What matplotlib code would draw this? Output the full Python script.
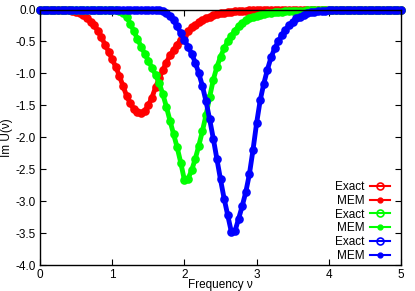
import matplotlib
matplotlib.use("Agg")
import matplotlib.pyplot as plt
import numpy as np

plt.rcParams['font.family'] = ['Liberation Sans', 'DejaVu Sans']
plt.rcParams['axes.unicode_minus'] = False

# frequency grid, step 0.05 from 0 to 5
freq = np.linspace(0, 5, 101)

red_exact = [
    0, 0, 0, 0, 0, 0, 0, -0.005, -0.01, -0.02,
    -0.04, -0.06, -0.09, -0.13, -0.19, -0.25, -0.33, -0.43, -0.55, -0.66,
    -0.78, -0.90, -1.04, -1.20, -1.35, -1.47, -1.56, -1.61, -1.62, -1.59,
    -1.50, -1.38, -1.22, -1.08, -0.95, -0.83, -0.72, -0.63, -0.55, -0.47,
    -0.40, -0.34, -0.28, -0.24, -0.20, -0.17, -0.14, -0.11, -0.09, -0.075,
    -0.06, -0.05, -0.04, -0.035, -0.03, -0.025, -0.02, -0.018, -0.015, -0.013,
    -0.011, -0.01, -0.009, -0.008, -0.007, -0.006, -0.005, -0.005, -0.004, -0.004,
    -0.003, -0.003, -0.003, -0.002, -0.002, -0.002, -0.002, -0.001, -0.001, -0.001,
    -0.001, -0.001, -0.001, -0.001, 0, 0, 0, 0, 0, 0,
    0, 0, 0, 0, 0, 0, 0, 0, 0, 0,
    0,
]

green_exact = [
    0, 0, 0, 0, 0, 0, 0, 0, 0, 0,
    0, 0, 0, 0, 0, 0, 0, 0, 0, 0,
    0, -0.005, -0.02, -0.06, -0.12, -0.22, -0.34, -0.46, -0.58, -0.69,
    -0.80, -0.91, -1.02, -1.15, -1.32, -1.52, -1.74, -1.95, -2.16, -2.40,
    -2.67, -2.65, -2.52, -2.34, -2.13, -1.90, -1.65, -1.37, -1.10, -0.90,
    -0.74, -0.61, -0.50, -0.41, -0.33, -0.26, -0.21, -0.17, -0.14, -0.12,
    -0.10, -0.085, -0.07, -0.06, -0.05, -0.045, -0.04, -0.035, -0.03, -0.027,
    -0.024, -0.021, -0.019, -0.017, -0.015, -0.013, -0.012, -0.011, -0.01, -0.009,
    -0.008, -0.007, -0.007, -0.006, -0.006, -0.005, -0.005, -0.005, -0.004, -0.004,
    -0.004, -0.003, -0.003, -0.003, -0.003, -0.003, -0.002, -0.002, -0.002, -0.002,
    -0.002,
]

blue_exact = [
    0, 0, 0, 0, 0, 0, 0, 0, 0, 0,
    0, 0, 0, 0, 0, 0, 0, 0, 0, 0,
    0, 0, 0, 0, 0, 0, 0, 0, 0, 0,
    0, 0, 0, -0.005, -0.03, -0.06, -0.10, -0.17, -0.26, -0.37,
    -0.48, -0.58, -0.69, -0.83, -1.00, -1.20, -1.44, -1.72, -2.02, -2.34,
    -2.66, -2.96, -3.22, -3.48, -3.47, -3.28, -3.08, -2.86, -2.58, -2.20,
    -1.78, -1.42, -1.16, -0.94, -0.75, -0.61, -0.50, -0.40, -0.32, -0.25,
    -0.19, -0.14, -0.11, -0.08, -0.06, -0.045, -0.033, -0.025, -0.02, -0.016,
    -0.013, -0.011, -0.009, -0.008, -0.007, -0.006, -0.005, -0.004, -0.004, -0.003,
    -0.003, -0.003, -0.002, -0.002, -0.002, -0.002, -0.001, -0.001, -0.001, -0.001,
    -0.001,
]

# MEM reconstruction lies on top of the exact curves
red_mem = list(red_exact)
green_mem = list(green_exact)
blue_mem = list(blue_exact)

series = [
    (red_exact, red_mem, '#ff0000'),
    (green_exact, green_mem, '#00ff00'),
    (blue_exact, blue_mem, '#0000ff'),
]

fig = plt.figure(figsize=(4.15, 2.91), dpi=100)
ax = fig.add_axes([40 / 415, 1 - 265 / 291, 361 / 415, 255.5 / 291])

for exact, mem, color in series:
    ax.plot(freq, exact, color=color, marker='o', mfc='none', ms=5, mew=1.2,
            lw=3.5, clip_on=False, label='Exact')
    ax.plot(freq, mem, color=color, marker='o', ms=3.5, lw=1.5,
            clip_on=False, label='MEM')

ax.set_xlim(0, 5)
ax.set_ylim(-4, 0)
ax.set_xticks([0, 1, 2, 3, 4, 5])
ax.set_yticks(np.arange(-4, 0.01, 0.5))
ax.yaxis.set_major_formatter(matplotlib.ticker.FormatStrFormatter('%.1f'))
ax.tick_params(direction='in', top=True, right=True, length=4, width=0.8,
               labelsize=8.5, pad=3)
for sp in ax.spines.values():
    sp.set_linewidth(1)

ax.set_xlabel('Frequency ν', fontsize=8.5)
ax.xaxis.set_label_coords(0.5, -0.055)
ax.set_ylabel('Im U(ν)', fontsize=8.5)
ax.yaxis.set_label_coords(-0.076, 0.5)

# legend handles drawn with thin lines like the reference key
leg = ax.legend(loc='lower right', bbox_to_anchor=(0.97, 0.012), frameon=False,
                markerfirst=False, fontsize=8.5, handlelength=1.7,
                handletextpad=0.5, labelspacing=0.15, borderpad=0,
                borderaxespad=0)
for h in leg.get_lines():
    h.set_linewidth(1.5)

fig.savefig('out.png', dpi=100)
